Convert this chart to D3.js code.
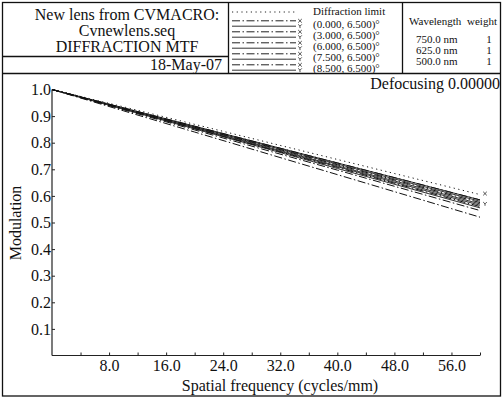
<!DOCTYPE html>
<html>
<head>
<meta charset="utf-8">
<script src="https://cdn.jsdelivr.net/npm/d3@7"></script>
<style>
  body { margin: 0; background: #fff; }
  svg text { font-family: "Liberation Serif", "Times New Roman", serif; fill: #111; }
</style>
</head>
<body>
<div id="chart"></div>
<script>
// spatial frequency samples (cycles/mm)
const freq = [0, 10, 20, 30, 40, 50, 60];
const diffraction = [1.0, 0.935, 0.869, 0.803, 0.737, 0.671, 0.605];
const fieldLabels = ['(0.000, 6.500)°', '(3.000, 6.500)°', '(6.000, 6.500)°', '(7.500, 6.500)°', '(8.500, 6.500)°'];
const tan0 = [1.0, 0.931, 0.862, 0.793, 0.724, 0.655, 0.585];
const sag0 = [1.0, 0.931, 0.862, 0.793, 0.724, 0.655, 0.585];
const tan3 = [1.0, 0.929, 0.858, 0.788, 0.717, 0.646, 0.575];
const sag3 = [1.0, 0.930, 0.860, 0.790, 0.720, 0.650, 0.580];
const tan6 = [1.0, 0.927, 0.853, 0.780, 0.707, 0.633, 0.560];
const sag6 = [1.0, 0.928, 0.857, 0.785, 0.713, 0.642, 0.570];
const tan75 = [1.0, 0.924, 0.848, 0.772, 0.697, 0.621, 0.545];
const sag75 = [1.0, 0.927, 0.855, 0.782, 0.710, 0.637, 0.565];
const tan85 = [1.0, 0.920, 0.840, 0.760, 0.680, 0.600, 0.520];
const sag85 = [1.0, 0.926, 0.852, 0.778, 0.703, 0.629, 0.555];
const wavelengths = ['750.0 nm', '625.0 nm', '500.0 nm'];
const weights = [1, 1, 1];
const yTicks = [0.1, 0.2, 0.3, 0.4, 0.5, 0.6, 0.7, 0.8, 0.9, 1.0];
const xTicks = [4, 8, 12, 16, 20, 24, 28, 32, 36, 40, 44, 48, 52, 56, 60];

const W = 503, H = 398;
const svg = d3.select('#chart').append('svg').attr('width', W).attr('height', H);

// frames
const frame = svg.append('g').attr('fill', 'none').attr('stroke', '#111').attr('stroke-width', 1.3);
frame.append('rect').attr('x', 2.5).attr('y', 2.5).attr('width', 498).attr('height', 393.5);
frame.append('line').attr('x1', 2).attr('x2', 501).attr('y1', 73.5).attr('y2', 73.5);
frame.append('line').attr('x1', 228.5).attr('x2', 228.5).attr('y1', 2).attr('y2', 74);
frame.append('line').attr('x1', 402.5).attr('x2', 402.5).attr('y1', 2).attr('y2', 74);
frame.append('line').attr('x1', 2).attr('x2', 228).attr('y1', 56.5).attr('y2', 56.5);

// title block
const title = ['New lens from CVMACRO:', 'Cvnewlens.seq', 'DIFFRACTION MTF'];
svg.append('g').selectAll('text').data(title).join('text')
  .attr('x', 127).attr('y', (d, i) => 20 + i * 16)
  .attr('text-anchor', 'middle').attr('font-size', 16).text(d => d);
svg.append('text').attr('x', 222).attr('y', 70).attr('text-anchor', 'end')
  .attr('font-size', 16).text('18-May-07');

// small x / y markers (drawn as glyph paths)
const markX = 'M-1.8,-1.8L1.8,1.8M1.8,-1.8L-1.8,1.8';
const markY = 'M-1.8,-1.8L0,0L1.8,-1.8M0,0V1.9';

// legend
const tanStyle = '8,2.5,1.5,2.5', sagStyle = null;
const leg = svg.append('g');
leg.append('line').attr('x1', 232).attr('x2', 296).attr('y1', 12).attr('y2', 12)
  .attr('stroke', '#222').attr('stroke-dasharray', '1.2,3.5');
leg.append('text').attr('x', 313).attr('y', 15).attr('font-size', 11).text('Diffraction limit');
fieldLabels.forEach((lab, i) => {
  const cy = 23.5 + i * 11;
  leg.append('line').attr('x1', 232).attr('x2', 296).attr('y1', cy - 2.7).attr('y2', cy - 2.7)
    .attr('stroke', '#222').attr('stroke-dasharray', tanStyle);
  leg.append('line').attr('x1', 232).attr('x2', 296).attr('y1', cy + 2.7).attr('y2', cy + 2.7)
    .attr('stroke', '#333');
  leg.append('path').attr('d', markX).attr('transform', `translate(300,${cy - 2.7})`)
    .attr('stroke', '#222').attr('fill', 'none').attr('stroke-width', 0.8);
  leg.append('path').attr('d', markY).attr('transform', `translate(300,${cy + 2.7})`)
    .attr('stroke', '#222').attr('fill', 'none').attr('stroke-width', 0.8);
  leg.append('text').attr('x', 313).attr('y', cy + 4).attr('font-size', 11).text(lab);
});

// wavelength block
svg.append('text').attr('x', 409).attr('y', 25).attr('font-size', 11).text('Wavelength');
svg.append('text').attr('x', 497).attr('y', 25).attr('text-anchor', 'end').attr('font-size', 11).text('weight');
wavelengths.forEach((w, i) => {
  svg.append('text').attr('x', 416).attr('y', 43 + i * 11).attr('font-size', 11).text(w);
  svg.append('text').attr('x', 489).attr('y', 43 + i * 11).attr('text-anchor', 'middle').attr('font-size', 11).text(weights[i]);
});

// plot
const x = d3.scaleLinear().domain([0, 60]).range([52, 480]);
const y = d3.scaleLinear().domain([0, 1]).range([355.5, 89.5]);

svg.append('text').attr('x', 500).attr('y', 89).attr('text-anchor', 'end')
  .attr('font-size', 16).text('Defocusing 0.00000');

const xAxis = svg.append('g').attr('transform', 'translate(0,355.5)')
  .call(d3.axisBottom(x).tickValues(xTicks).tickSize(-3).tickPadding(3)
    .tickFormat(d => d % 8 === 0 ? d.toFixed(1) : ''));
const yAxis = svg.append('g').attr('transform', 'translate(52,0)')
  .call(d3.axisLeft(y).tickValues(yTicks).tickSize(-3).tickPadding(1)
    .tickFormat(d3.format('.1f')));
[xAxis, yAxis].forEach(a => {
  a.select('.domain').attr('stroke', '#222').attr('stroke-width', 1.2);
  a.selectAll('.tick line').attr('stroke', '#222');
  a.selectAll('text').attr('font-size', 16).attr('fill', '#111')
    .attr('font-family', '"Liberation Serif", "Times New Roman", serif');
});
yAxis.select('.domain').attr('d', `M0,${y(0)}V${y(1)}`);
xAxis.select('.domain').attr('d', `M0,0H${x(60) - 52}`).attr('transform', 'translate(52,0)');
xAxis.selectAll('.tick text').attr('dy', '0.75em');

svg.append('text').attr('transform', 'translate(21,223) rotate(-90)')
  .attr('text-anchor', 'middle').attr('font-size', 16).text('Modulation');
svg.append('text').attr('x', 280).attr('y', 391).attr('text-anchor', 'middle')
  .attr('font-size', 16).text('Spatial frequency (cycles/mm)');

const line = d3.line().x((d, i) => x(freq[i])).y(d => y(d));
const series = [
  { v: sag0, dash: sagStyle, c: '#333' }, { v: sag3, dash: sagStyle, c: '#333' },
  { v: sag6, dash: sagStyle, c: '#333' }, { v: sag75, dash: sagStyle, c: '#333' },
  { v: sag85, dash: sagStyle, c: '#333' },
  { v: tan0, dash: tanStyle, c: '#111' }, { v: tan3, dash: tanStyle, c: '#111' },
  { v: tan6, dash: tanStyle, c: '#111' }, { v: tan75, dash: tanStyle, c: '#111' },
  { v: tan85, dash: tanStyle, c: '#111' },
  { v: diffraction, dash: '1.2,3.5', c: '#111' }
];
svg.append('g').attr('fill', 'none').selectAll('path').data(series).join('path')
  .attr('d', d => line(d.v)).attr('stroke', d => d.c).attr('stroke-width', 1)
  .attr('stroke-dasharray', d => d.dash);

// end markers
svg.append('path').attr('d', markX).attr('transform', `translate(${x(60) + 5},${y(diffraction[6]) - 1})`)
  .attr('stroke', '#222').attr('fill', 'none').attr('stroke-width', 0.8);
svg.append('path').attr('d', markY).attr('transform', `translate(${x(60) + 5},${y(sag6[6])})`)
  .attr('stroke', '#222').attr('fill', 'none').attr('stroke-width', 0.8);
</script>
</body>
</html>
